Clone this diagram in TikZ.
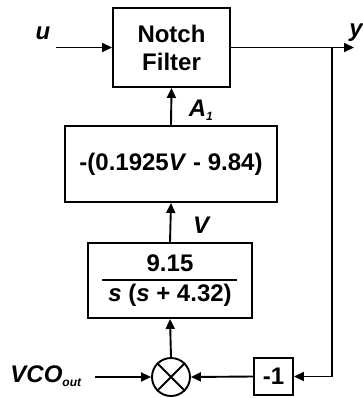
\documentclass[tikz,border=0pt]{standalone}
\usepackage{fontspec}
\setmainfont{Liberation Sans}
\usetikzlibrary{arrows.meta,calc}
\tikzset{
  blk/.style={draw, line width=1.9pt, inner sep=0pt, font=\bfseries\fontsize{24}{28}\selectfont},
  arr/.style={line width=1.9pt, -{Triangle[length=10pt,width=9pt]}},
  ln/.style={line width=1.9pt},
  lbl/.style={font=\bfseries\itshape\fontsize{24}{28}\selectfont, inner sep=0pt},
  txt/.style={font=\bfseries\fontsize{24}{28}\selectfont, inner sep=0pt}
}
\begin{document}
\begin{tikzpicture}[x=1pt,y=-1pt]
\useasboundingbox (0,0) rectangle (363,398);
% blocks
\node[blk, minimum width=117pt, minimum height=79pt, align=center] (nf) at (171.5,47.5) {Notch\\Filter};
\node[blk, minimum width=212pt, minimum height=76pt] (gain) at (171,164) {-(0.1925\textit{V} - 9.84)};
\node[blk, minimum width=164pt, minimum height=75pt] (tf) at (170,280.5) {};
\node[txt] (num) at (170,263) {9.15};
\node[txt] (den) at (170,295) {\textit{s} (\textit{s} + 4.32)};
\draw[ln] (102,280) -- (237,280);
\node[draw, circle, line width=1.9pt, minimum size=38pt, inner sep=0pt] (sum) at (171,377) {};
\draw[ln] (sum.north west) -- (sum.south east);
\draw[ln] (sum.north east) -- (sum.south west);
\node[blk, minimum width=39pt, minimum height=37pt] (m1) at (273.5,376.5) {-1};
% labels
\node[lbl] (u) at (43,33) {u};
\node[lbl, anchor=east] (ylab) at (363,33) {y};
\node[lbl] (a1) at (201,110) {A\textsubscript{\fontsize{12}{12}\selectfont 1}};
\node[lbl] (v) at (201,225) {V};
\node[lbl] (vco) at (46,376) {VCO\textsubscript{\fontsize{12}{12}\selectfont out}};
% coordinates
\coordinate (uin) at (56,47.5);
\coordinate (yout) at (354,47.5);
\coordinate (br) at (332,47.5);
\coordinate (vin) at (95,377);
% connectors
\draw[arr] (uin) -- (nf.west);
\draw[arr] (nf.east) -- (yout);
\draw[arr] (br) |- (m1.east);
\draw[arr] (m1.west) -- (sum.east);
\draw[arr] (vin) -- (sum.west);
\draw[arr] (sum.north) -- (tf.south);
\draw[arr] (tf.north) -- (gain.south);
\draw[arr] (gain.north) -- (nf.south);
\end{tikzpicture}
\end{document}
